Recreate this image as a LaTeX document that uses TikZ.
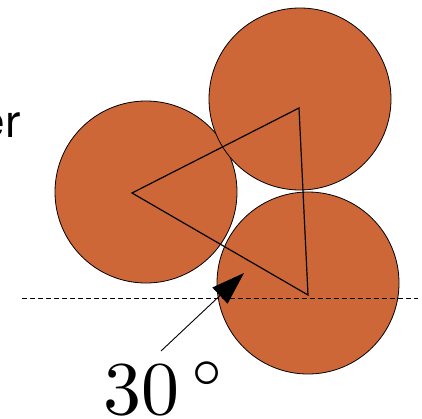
\documentclass[tikz,border=0pt]{standalone}
\usepackage{fontspec}
\newfontfamily\labelsans{TeX Gyre Heros}
\usetikzlibrary{arrows.meta}
\definecolor{ball}{RGB}{205,103,55}
\tikzset{
  ball/.style={circle, draw=black, line width=0.8pt, fill=ball, inner sep=0pt, minimum size=182pt},
  tri/.style={draw=black, line width=1.2pt, line join=miter},
  ref/.style={draw=black, line width=0.8pt, dash pattern=on 5pt off 3pt},
  pointer/.style={draw=black, line width=0.9pt, -{Triangle[length=33pt,width=22pt]}},
}
\begin{document}
\begin{tikzpicture}[x=1pt,y=-1pt]
\useasboundingbox (0,0) rectangle (422,418);
\node[ball] (c1) at (146,192) {};
\node[ball] (c2) at (300,99) {};
\node[ball] (c3) at (308,283) {};
\coordinate (a) at (132,193);
\coordinate (b) at (299,108);
\coordinate (c) at (308,295);
\draw[tri] (a) -- (b) -- (c) -- cycle;
\coordinate (dl) at (22,298);
\coordinate (dr) at (418,298);
\draw[ref] (dl) -- (dr);
\coordinate (tail) at (161,351);
\coordinate (tip) at (244,273);
\draw[pointer] (tail) -- (tip);
\node[anchor=base east, inner sep=0pt, font=\labelsans\fontsize{46}{50}\selectfont] (lbl) at (21,137) {er};
\node[anchor=base west, inner sep=0pt, font=\fontsize{10}{12}\selectfont] (ang) at (103,414) {\scalebox{7.6}{$30\,^\circ$}};
\end{tikzpicture}
\end{document}
